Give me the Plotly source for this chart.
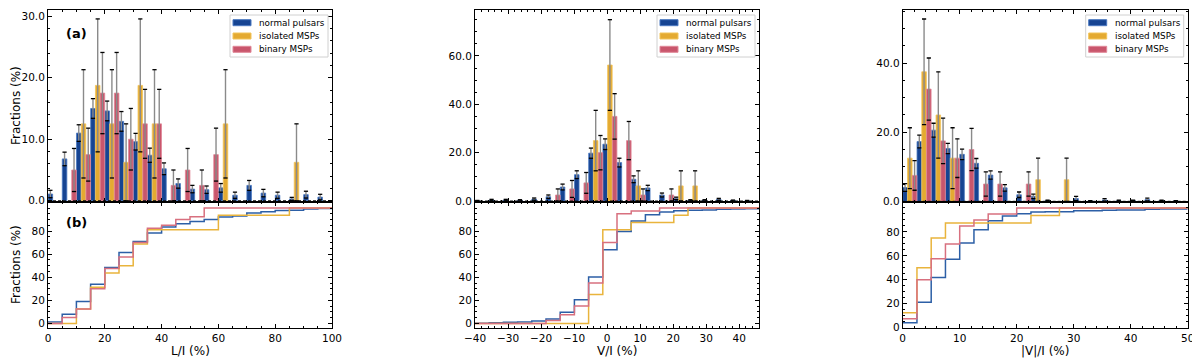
import numpy as np
import plotly.graph_objects as go
from plotly.subplots import make_subplots

# bin edges of the three histograms
li_edges = np.linspace(0, 100, 21)
vi_edges = np.linspace(-40, 46, 21)
avi_edges = np.linspace(0, 50, 21)

groups = ["normal pulsars", "isolated MSPs", "binary MSPs"]

# fractions (%) per bin, L/I
li_normal = [1.1, 6.8, 11.0, 15.0, 14.6, 12.9, 9.6, 7.4, 5.2, 2.8,
             1.9, 1.8, 2.1, 0.9, 2.5, 1.25, 0.9, 0.3, 1.0, 0.6]
li_normal_err = [0.6, 1.1, 1.35, 1.6, 1.6, 1.6, 1.35, 1.15, 0.95, 0.75,
                 0.6, 0.6, 0.7, 0.5, 0.8, 0.6, 0.5, 0.25, 0.55, 0.45]
li_iso = [0, 0, 12.5, 18.75, 12.5, 6.25, 18.75, 12.5, 0, 0,
          0, 0, 12.5, 0, 0, 0, 0, 6.25, 0, 0]
li_iso_err = [0, 0, 8.8, 10.8, 8.8, 6.25, 10.8, 8.8, 0, 0,
              0, 0, 8.8, 0, 0, 0, 0, 6.25, 0, 0]
li_bin = [0, 5.0, 7.5, 17.5, 17.5, 10.0, 12.5, 12.5, 2.5, 5.0,
          2.5, 7.5, 0, 0, 0, 0, 0, 0, 0, 0]
li_bin_err = [0, 3.5, 4.3, 6.6, 6.6, 5.0, 5.6, 5.6, 2.5, 3.5,
              2.5, 4.3, 0, 0, 0, 0, 0, 0, 0, 0]

# fractions (%) per bin, V/I
vi_normal = [0.1, 0.4, 0.4, 0.3, 0.8, 1.8, 5.8, 10.9, 19.8, 23.5,
             15.9, 9.0, 5.4, 2.5, 1.1, 0.3, 0.3, 0.7, 0.2, 0.1]
vi_normal_err = [0.15, 0.3, 0.3, 0.25, 0.45, 0.7, 1.2, 1.6, 2.1, 2.2,
                 1.8, 1.4, 1.1, 0.8, 0.5, 0.25, 0.25, 0.4, 0.2, 0.15]
vi_iso = [0, 0, 0, 0, 0, 0, 0, 0, 25.0, 56.25,
          0, 6.25, 0, 0, 6.25, 6.25, 0, 0, 0, 0]
vi_iso_err = [0, 0, 0, 0, 0, 0, 0, 0, 12.5, 18.75,
              0, 6.25, 0, 0, 6.25, 6.25, 0, 0, 0, 0]
vi_bin = [0, 0, 0, 0, 0, 2.5, 5.0, 7.5, 20.0, 35.0,
          25.0, 2.5, 0, 2.5, 0, 0, 0, 0, 0, 0]
vi_bin_err = [0, 0, 0, 0, 0, 2.5, 3.5, 4.3, 7.1, 9.4,
              7.9, 2.5, 0, 2.5, 0, 0, 0, 0, 0, 0]

# fractions (%) per bin, |V|/I
avi_normal = [4.0, 17.3, 20.6, 15.3, 13.6, 11.0, 7.6, 3.9, 1.9, 1.45,
              0.15, 0, 0.8, 0.1, 0.4, 0.15, 0.15, 0.5, 0.15, 0.1]
avi_normal_err = [1.1, 1.85, 2.0, 1.5, 1.5, 1.4, 1.2, 0.95, 0.8, 0.65,
                  0.15, 0, 0.6, 0.1, 0.35, 0.15, 0.15, 0.4, 0.15, 0.1]
avi_iso = [12.5, 37.5, 25.0, 12.5, 0, 0, 0, 0, 0, 6.25,
           0, 6.25, 0, 0, 0, 0, 0, 0, 0, 0]
avi_iso_err = [8.8, 15.3, 12.5, 8.8, 0, 0, 0, 0, 0, 6.25,
               0, 6.25, 0, 0, 0, 0, 0, 0, 0, 0]
avi_bin = [7.5, 32.5, 17.5, 12.5, 15.0, 5.0, 5.0, 0, 5.0, 0,
           0, 0, 0, 0, 0, 0, 0, 0, 0, 0]
avi_bin_err = [4.3, 9.0, 6.6, 5.6, 6.1, 3.5, 3.5, 0, 3.5, 0,
               0, 0, 0, 0, 0, 0, 0, 0, 0, 0]

bar_fill = ["rgba(10,58,140,0.95)", "rgba(226,163,32,0.92)", "rgba(196,72,96,0.92)"]
bar_edge = ["#4a78c0", "#f2c45a", "#e08898"]
line_col = ["#2c5fa6", "#e9b43c", "#d8707f"]

FONT = "DejaVu Sans"
# the page has an 8px body margin, so the figure is shrunk and every
# position below (given in window pixels) is shifted by that margin
OFF = 8
W, H = 1200 - OFF, 360 - OFF


def px_x(X):
    return (X - OFF) / W


def px_y(Y):
    return 1 - (Y - OFF) / H


panels = [
    dict(edges=li_edges, vals=[li_normal, li_iso, li_bin], errs=[li_normal_err, li_iso_err, li_bin_err],
         xr=[0, 100], xdt=20, xminor=5, ytr=[-0.2, 31.0], ytv=[0, 10, 20, 30], ytminor=2,
         ybr=[-4, 105.2], xpx=(48, 332), xlabel="L/I (%)"),
    dict(edges=vi_edges, vals=[vi_normal, vi_iso, vi_bin], errs=[vi_normal_err, vi_iso_err, vi_bin_err],
         xr=[-40, 46], xdt=10, xminor=2, ytr=[-0.4, 79.0], ytv=[0, 20, 40, 60], ytminor=5,
         ybr=[-4, 105.2], xpx=(475, 759), xlabel="V/I (%)"),
    dict(edges=avi_edges, vals=[avi_normal, avi_iso, avi_bin], errs=[avi_normal_err, avi_iso_err, avi_bin_err],
         xr=[0, 50], xdt=10, xminor=2, ytr=[-0.2, 55.4], ytv=[0, 20, 40], ytminor=5,
         ybr=[-0.3, 105], xpx=(902.7, 1187.7), xlabel="|V|/I (%)"),
]

top_px = (10, 202)
bot_px = (202, 328)

fig = make_subplots(rows=2, cols=3)

axis_style = dict(showline=True, linecolor="black", linewidth=1, mirror="allticks",
                  ticks="inside", ticklen=4, tickwidth=1, tickcolor="black",
                  showgrid=False, zeroline=False, automargin=False,
                  tickfont=dict(family=FONT, size=10.5, color="black"))

shapes = []
annotations = []

for c, p in enumerate(panels, start=1):
    edges = p["edges"]
    w = edges[1] - edges[0]
    sub = w / 3
    for i in range(3):
        vals = np.array(p["vals"][i], dtype=float)
        err = np.array(p["errs"][i], dtype=float)
        xc = edges[:-1] + (i + 0.5) * sub
        m = vals > 0
        fig.add_trace(go.Bar(
            x=xc[m], y=vals[m], width=sub * 0.96,
            marker=dict(color=bar_fill[i], line=dict(color=bar_edge[i], width=0.8)),
            error_y=dict(type="data", array=err[m], color="#8a8a8a", thickness=1.4, width=0),
            showlegend=False, hoverinfo="skip"), row=1, col=c)
        # black caps of the error bars
        fig.add_trace(go.Scatter(
            x=np.concatenate([xc[m], xc[m]]),
            y=np.concatenate([vals[m] + err[m], np.clip(vals[m] - err[m], 0, None)]),
            mode="markers",
            marker=dict(symbol="line-ew", size=3, line=dict(color="black", width=1.3)),
            showlegend=False, hoverinfo="skip"), row=1, col=c)

    # cumulative step curves
    for i in range(3):
        cum = np.cumsum(p["vals"][i])
        fig.add_trace(go.Scatter(
            x=edges, y=np.append(cum, cum[-1]), mode="lines",
            line=dict(shape="hv", color=line_col[i], width=1.5),
            showlegend=False, hoverinfo="skip"), row=2, col=c)

    x0, x1 = px_x(p["xpx"][0]), px_x(p["xpx"][1])
    top_dom = [px_y(top_px[1]), px_y(top_px[0])]
    bot_dom = [px_y(bot_px[1]), px_y(bot_px[0])]

    xa_top, ya_top = "xaxis" + ("" if c == 1 else str(c)), "yaxis" + ("" if c == 1 else str(c))
    xa_bot, ya_bot = "xaxis" + str(c + 3), "yaxis" + str(c + 3)

    fig.update_layout(**{
        xa_top: dict(axis_style, domain=[x0, x1], range=p["xr"], dtick=p["xdt"], tick0=0,
                     showticklabels=False,
                     minor=dict(ticks="inside", ticklen=2, tickcolor="black", dtick=p["xminor"])),
        ya_top: dict(axis_style, domain=top_dom, range=p["ytr"], tickmode="array",
                     tickvals=p["ytv"], ticktext=["%.1f" % v for v in p["ytv"]],
                     minor=dict(ticks="inside", ticklen=2, tickcolor="black", dtick=p["ytminor"], tick0=0)),
        xa_bot: dict(axis_style, domain=[x0, x1], range=p["xr"], dtick=p["xdt"], tick0=0,
                     minor=dict(ticks="inside", ticklen=2, tickcolor="black", dtick=p["xminor"])),
        ya_bot: dict(axis_style, domain=bot_dom, range=p["ybr"], tickmode="array",
                     tickvals=[0, 20, 40, 60, 80],
                     minor=dict(ticks="inside", ticklen=2, tickcolor="black", dtick=5, tick0=0)),
    })

    xref_top = "x" + ("" if c == 1 else str(c))
    yref_top = "y" + ("" if c == 1 else str(c))

    # dotted zero line
    shapes.append(dict(type="line", xref=xref_top + " domain", yref=yref_top,
                       x0=0, x1=1, y0=0, y1=0,
                       line=dict(color="black", width=1, dash="3px,2px")))

    # legend box drawn by hand
    pw = p["xpx"][1] - p["xpx"][0]
    ph = top_px[1] - top_px[0]
    bx1 = p["xpx"][1] - 4
    bx0 = bx1 - 98
    by0, by1 = 15, 57

    def fx(X):
        return (X - p["xpx"][0]) / pw

    def fy(Y):
        return 1 - (Y - top_px[0]) / ph

    shapes.append(dict(type="rect", xref=xref_top + " domain", yref=yref_top + " domain",
                       x0=fx(bx0), x1=fx(bx1), y0=fy(by1), y1=fy(by0),
                       line=dict(color="#d0d0d0", width=1), fillcolor="rgba(255,255,255,0.85)"))
    for i, name in enumerate(groups):
        cy = 22.7 + 13.3 * i
        shapes.append(dict(type="rect", xref=xref_top + " domain", yref=yref_top + " domain",
                           x0=fx(bx0 + 3), x1=fx(bx0 + 21), y0=fy(cy + 3), y1=fy(cy - 3),
                           line=dict(color=bar_edge[i], width=1), fillcolor=bar_fill[i]))
        annotations.append(dict(xref=xref_top + " domain", yref=yref_top + " domain",
                                x=fx(bx0 + 27), y=fy(cy), text=name, showarrow=False,
                                xanchor="left", yanchor="middle",
                                font=dict(family=FONT, size=8.8, color="black")))

    # x axis title
    annotations.append(dict(xref="paper", yref="paper", x=(x0 + x1) / 2, y=px_y(351),
                            text=p["xlabel"], showarrow=False, xanchor="center", yanchor="middle",
                            font=dict(family=FONT, size=12, color="black")))

# y axis titles and panel tags (first column only)
annotations.append(dict(xref="paper", yref="paper", x=px_x(16), y=px_y(106), text="Fractions (%)",
                        textangle=-90, showarrow=False, xanchor="center", yanchor="middle",
                        font=dict(family=FONT, size=12, color="black")))
annotations.append(dict(xref="paper", yref="paper", x=px_x(16), y=px_y(265), text="Fractions (%)",
                        textangle=-90, showarrow=False, xanchor="center", yanchor="middle",
                        font=dict(family=FONT, size=12, color="black")))
annotations.append(dict(xref="paper", yref="paper", x=px_x(76), y=px_y(33), text="<b>(a)</b>",
                        showarrow=False, xanchor="center", yanchor="middle",
                        font=dict(family=FONT, size=13, color="black")))
annotations.append(dict(xref="paper", yref="paper", x=px_x(76), y=px_y(222), text="<b>(b)</b>",
                        showarrow=False, xanchor="center", yanchor="middle",
                        font=dict(family=FONT, size=13, color="black")))

fig.update_layout(
    width=W, height=H, margin=dict(l=0, r=0, t=0, b=0),
    paper_bgcolor="white", plot_bgcolor="white",
    barmode="overlay", showlegend=False,
    shapes=shapes, annotations=annotations,
    font=dict(family=FONT, size=10, color="black"),
)

fig.write_html("out.html")
